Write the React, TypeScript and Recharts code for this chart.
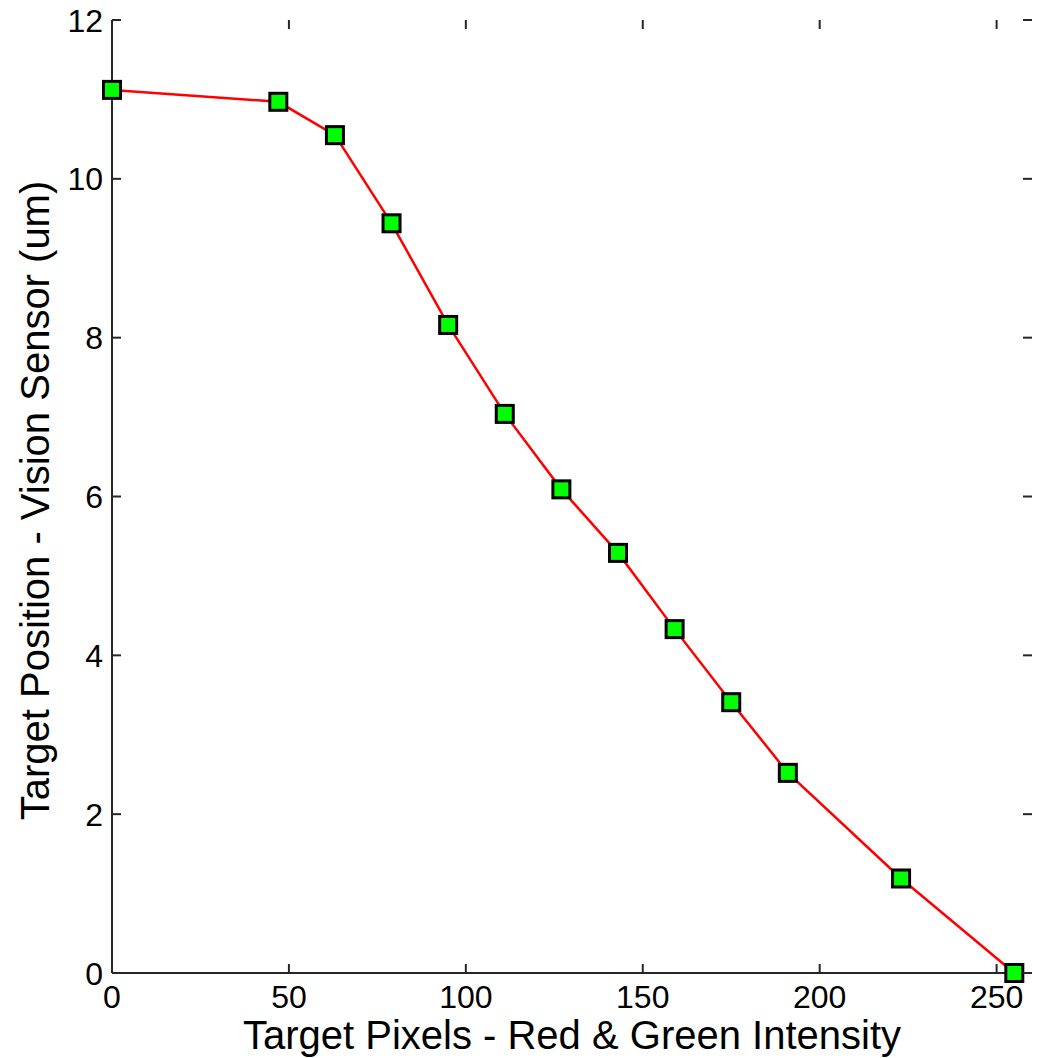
import React from 'react';
import { LineChart, Line, XAxis, YAxis } from 'recharts';

// target pixel intensity (x) vs measured position (y, um)
const intensity = [0, 47, 63, 79, 95, 111, 127, 143, 159, 175, 191, 223, 255];
const position = [11.12, 10.97, 10.55, 9.44, 8.16, 7.04, 6.09, 5.29, 4.33, 3.41, 2.52, 1.19, 0];

const xTicks = [0, 50, 100, 150, 200, 250];
const yTicks = [0, 2, 4, 6, 8, 10, 12];

const W = 1040;
const H = 1058;
const MARGIN = { top: 20, right: 8, bottom: 0, left: 0 };
const Y_AXIS_W = 112;
const X_AXIS_H = 85;
const PLOT_TOP = MARGIN.top;
const PLOT_BOTTOM = H - MARGIN.bottom - X_AXIS_H;
const PLOT_LEFT = MARGIN.left + Y_AXIS_W;
const PLOT_RIGHT = W - MARGIN.right;
const TICK_LEN = 9;
const AXIS_COLOR = '#262626';
const AXIS_W = 2;
const FONT = '"Liberation Sans", Arial, sans-serif';

const data = intensity.map((x, i) => ({ x, y: position[i] }));

const XTick = (props: any) => {
  const { x, payload } = props;
  return (
    <g>
      <line x1={x} x2={x} y1={PLOT_BOTTOM} y2={PLOT_BOTTOM - TICK_LEN} stroke={AXIS_COLOR} strokeWidth={AXIS_W} />
      <line x1={x} x2={x} y1={PLOT_TOP} y2={PLOT_TOP + TICK_LEN} stroke={AXIS_COLOR} strokeWidth={AXIS_W} />
      <text x={x} y={PLOT_BOTTOM + 35} textAnchor="middle" fontSize={32} fontFamily={FONT} fill="#000">
        {payload.value}
      </text>
    </g>
  );
};

const YTick = (props: any) => {
  const { y, payload } = props;
  return (
    <g>
      <line x1={PLOT_LEFT} x2={PLOT_LEFT + TICK_LEN} y1={y} y2={y} stroke={AXIS_COLOR} strokeWidth={AXIS_W} />
      <line x1={PLOT_RIGHT - TICK_LEN} x2={PLOT_RIGHT} y1={y} y2={y} stroke={AXIS_COLOR} strokeWidth={AXIS_W} />
      <text x={PLOT_LEFT - 9} y={y} dy="0.36em" textAnchor="end" fontSize={32} fontFamily={FONT} fill="#000">
        {payload.value}
      </text>
    </g>
  );
};

const SquareDot = (props: any) => {
  const { cx, cy, index } = props;
  if (cx == null || cy == null) return null;
  const s = 17;
  return (
    <rect
      key={index}
      x={cx - s / 2}
      y={cy - s / 2}
      width={s}
      height={s}
      fill="#00ff00"
      stroke="#000"
      strokeWidth={3}
    />
  );
};

const YLabel = (props: any) => {
  const { viewBox } = props;
  const cx = viewBox.x + 49;
  const cy = viewBox.y + viewBox.height / 2 + 4;
  return (
    <text
      x={cx}
      y={cy}
      transform={`rotate(-90, ${cx}, ${cy})`}
      textAnchor="middle"
      fontSize={40}
      fontFamily={FONT}
      fill="#000"
    >
      Target Position - Vision Sensor (um)
    </text>
  );
};

export default function App() {
  return (
    <div style={{ position: 'absolute', left: 0, top: 0, width: W, height: H, background: '#fff' }}>
      <LineChart width={W} height={H} data={data} margin={MARGIN}>
        <XAxis
          dataKey="x"
          type="number"
          domain={[0, 260]}
          ticks={xTicks}
          height={X_AXIS_H}
          tickLine={false}
          tick={<XTick />}
          axisLine={{ stroke: AXIS_COLOR, strokeWidth: AXIS_W }}
          label={{
            value: 'Target Pixels - Red & Green Intensity',
            position: 'insideBottom',
            offset: 9,
            fontSize: 40,
            fontFamily: FONT,
            fill: '#000',
          }}
        />
        <XAxis
          xAxisId="top"
          dataKey="x"
          type="number"
          domain={[0, 260]}
          orientation="top"
          height={0}
          tick={false}
          tickLine={false}
          axisLine={{ stroke: AXIS_COLOR, strokeWidth: AXIS_W }}
        />
        <YAxis
          type="number"
          domain={[0, 12]}
          ticks={yTicks}
          width={Y_AXIS_W}
          tickLine={false}
          tick={<YTick />}
          axisLine={{ stroke: AXIS_COLOR, strokeWidth: AXIS_W }}
          label={<YLabel />}
        />
        <YAxis
          yAxisId="right"
          type="number"
          domain={[0, 12]}
          orientation="right"
          width={0}
          tick={false}
          tickLine={false}
          axisLine={{ stroke: AXIS_COLOR, strokeWidth: AXIS_W }}
        />
        <Line
          type="linear"
          dataKey="y"
          stroke="#ff0000"
          strokeWidth={2.5}
          dot={<SquareDot />}
          activeDot={false}
          isAnimationActive={false}
        />
      </LineChart>
    </div>
  );
}
